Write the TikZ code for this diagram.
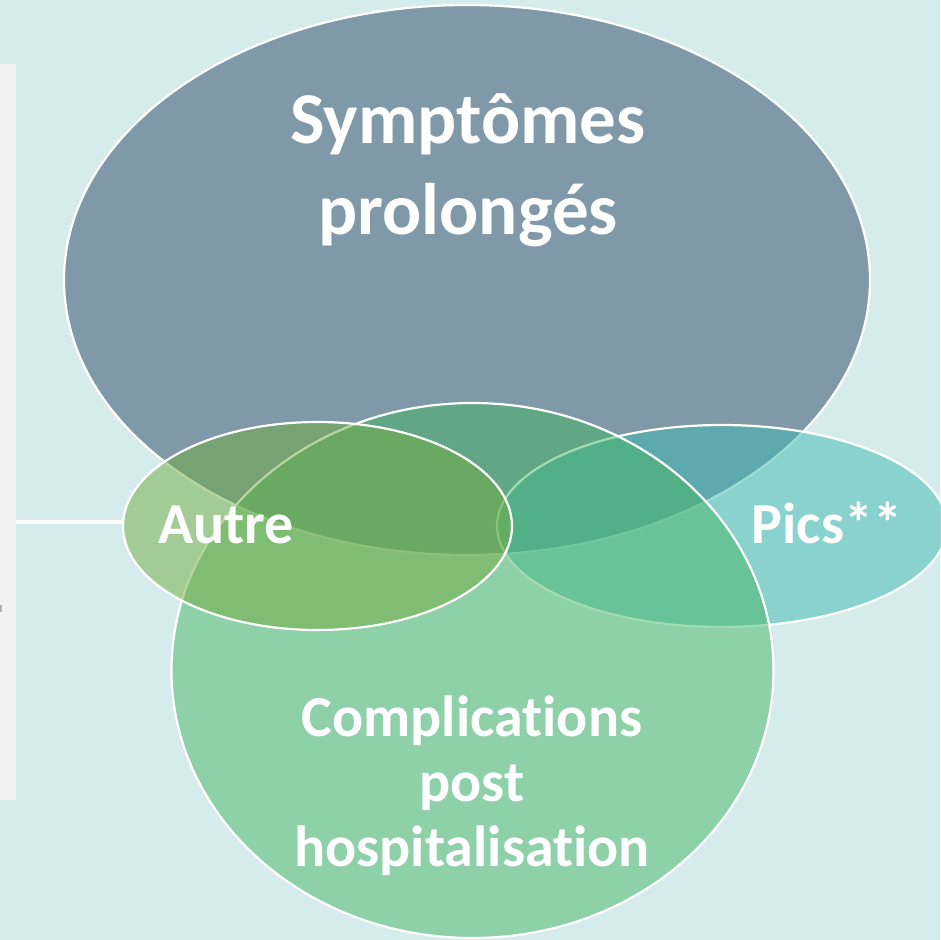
\documentclass[tikz,border=0pt]{standalone}
\usepackage{fontspec}
\setmainfont{Carlito}[Ligatures={NoCommon,NoRequired,NoContextual}]
\usetikzlibrary{shapes.geometric}
\definecolor{bgc}{RGB}{214,236,236}
\definecolor{panelc}{RGB}{242,242,242}
\definecolor{symc}{RGB}{127,153,168}
\definecolor{picsc}{RGB}{63,186,178}
\definecolor{compc}{RGB}{71,182,100}
\definecolor{autrec}{RGB}{113,172,64}
\begin{document}
\begin{tikzpicture}[x=1pt,y=-1pt,
  blob/.style={ellipse, draw=white, line width=2.2pt, inner sep=0pt},
  bigtext/.style={text=white, font=\bfseries\fontsize{73}{91}\selectfont, align=center, inner sep=0pt},
  midtext/.style={text=white, font=\bfseries\fontsize{58}{65}\selectfont, align=center, inner sep=0pt}]
\useasboundingbox (0,0) rectangle (940,940);
\fill[bgc] (0,0) rectangle (940,940);
\node[fill=panelc, minimum width=16pt, minimum height=736pt, inner sep=0pt, anchor=north west] (panel) at (0,64) {};
\fill[gray!60] (0,605) rectangle (2,612);
\node[blob, fill=symc, minimum width=806pt, minimum height=550pt] (sym) at (467,280) {};
\node[blob, fill=picsc, fill opacity=0.5, minimum width=450pt, minimum height=202pt] (pics) at (722,526) {};
\node[blob, fill=compc, fill opacity=0.5, minimum width=602pt, minimum height=535pt] (comp) at (472.5,670.5) {};
\node[blob, fill=autrec, fill opacity=0.5, minimum width=389pt, minimum height=208pt] (autre) at (317.5,526) {};
\draw[white, line width=4pt] (panel.east |- 0,522) -- (autre.west |- 0,522);
\node[bigtext] (symt) at (468,170) {Symptômes\\prolongés};
\node[midtext] (compt) at (472,786) {Complications\\post\\hospitalisation};
\node[midtext, anchor=base] (autret) at (226,543) {Autre};
\node[midtext, anchor=base] (picst) at (827,543) {Pics**};
\end{tikzpicture}
\end{document}
